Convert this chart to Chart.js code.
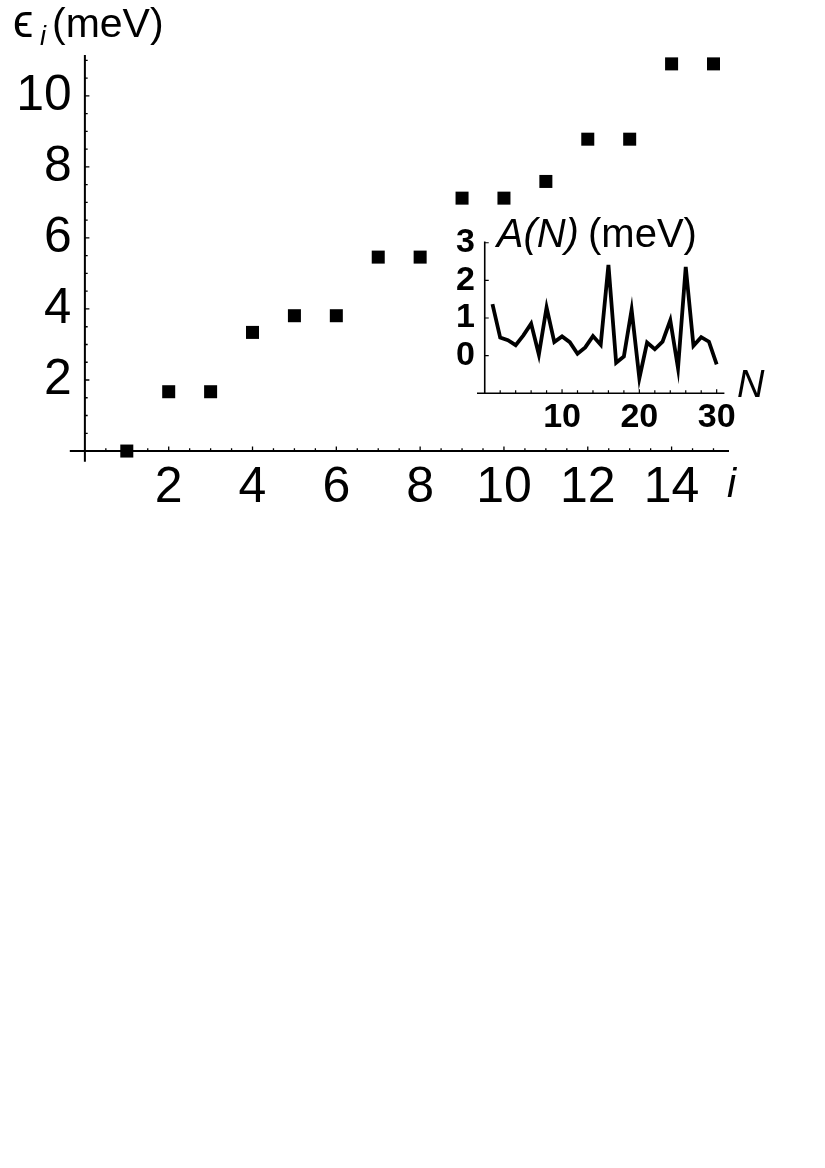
<!DOCTYPE html>
<html>
<head>
<meta charset="utf-8">
<script src="https://cdn.jsdelivr.net/npm/chart.js@4.4.1/dist/chart.umd.min.js"></script>
<style>
  html, body { margin: 0; padding: 0; background: #fff; width: 825px; height: 1168px; overflow: hidden; }
  #mainBox { position: absolute; left: 0; top: 0; width: 825px; height: 530px; }
  #insetBox { position: absolute; left: 430px; top: 200px; width: 360px; height: 245px; }
</style>
</head>
<body>
<div id="mainBox"><canvas id="mainChart"></canvas></div>
<div id="insetBox"><canvas id="insetChart"></canvas></div>
<script>
// ---- data ----
const levelIndex  = [1, 2, 3, 4, 5, 6, 7, 8, 9, 10, 11, 12, 13, 14, 15];
const levelEnergy = [0, 1.67, 1.67, 3.34, 3.81, 3.81, 5.46, 5.46, 7.12, 7.12, 7.59, 8.78, 8.78, 10.90, 10.90];
const mainXTicks  = [2, 4, 6, 8, 10, 12, 14];
const mainYTicks  = [2, 4, 6, 8, 10];

const insetN = [1, 2, 3, 4, 5, 6, 7, 8, 9, 10, 11, 12, 13, 14, 15,
                16, 17, 18, 19, 20, 21, 22, 23, 24, 25, 26, 27, 28, 29, 30];
const insetA = [1.37, 0.48, 0.41, 0.28, 0.54, 0.85, 0.03, 1.28, 0.36, 0.51,
                0.36, 0.05, 0.22, 0.52, 0.29, 2.41, -0.19, -0.02, 1.22, -0.60,
                0.35, 0.17, 0.37, 0.94, -0.33, 2.36, 0.26, 0.49, 0.37, -0.23];
const insetXTicks = [10, 20, 30];
const insetYTicks = [0, 1, 2, 3];

// ---- helpers ----
const FAMILY = '"Liberation Sans", Arial, Helvetica, sans-serif';

function range(from, to, step) {
  const out = [];
  for (let v = from; v <= to + 1e-9; v += step) out.push(Math.round(v * 1000) / 1000);
  return out;
}

function crossAxesPlugin(cfg) {
  return {
    id: 'crossAxes',
    beforeDatasetsDraw(chart) {
      const ctx = chart.ctx, xs = chart.scales.x, ys = chart.scales.y;
      const vx = xs.getPixelForValue(cfg.yAxisAt);
      const hy = ys.getPixelForValue(cfg.xAxisAt);
      ctx.save();
      ctx.strokeStyle = '#000';
      ctx.lineCap = 'butt';
      ctx.lineWidth = cfg.lineWidth;
      ctx.beginPath();
      ctx.moveTo(xs.left, hy); ctx.lineTo(xs.right, hy);
      ctx.moveTo(vx, ys.getPixelForValue(cfg.yLineFrom)); ctx.lineTo(vx, ys.top);
      ctx.stroke();
      ctx.lineWidth = cfg.tickWidth;
      ctx.beginPath();
      cfg.xMinor.forEach(v => { const p = xs.getPixelForValue(v); ctx.moveTo(p, hy); ctx.lineTo(p, hy - cfg.minorLen); });
      cfg.xMajor.forEach(v => { const p = xs.getPixelForValue(v); ctx.moveTo(p, hy); ctx.lineTo(p, hy - cfg.majorLen); });
      cfg.yMinor.forEach(v => { const p = ys.getPixelForValue(v); ctx.moveTo(vx, p); ctx.lineTo(vx + cfg.minorLen, p); });
      cfg.yMajor.forEach(v => { const p = ys.getPixelForValue(v); ctx.moveTo(vx, p); ctx.lineTo(vx + cfg.majorLen, p); });
      ctx.stroke();
      ctx.restore();
    }
  };
}

function textPlugin(runs) {
  return {
    id: 'labels',
    afterDraw(chart) {
      const ctx = chart.ctx;
      ctx.save();
      ctx.fillStyle = '#000';
      ctx.textBaseline = 'alphabetic';
      ctx.textAlign = 'left';
      runs.forEach(r => {
        ctx.font = r.font;
        ctx.fillText(r.text, r.x, r.y);
      });
      ctx.restore();
    }
  };
}

const noGrid = { display: false, drawTicks: false, tickLength: 0 };

// ---- main chart ----
new Chart(document.getElementById('mainChart'), {
  type: 'scatter',
  data: {
    datasets: [{
      data: levelIndex.map((x, k) => ({ x: x, y: levelEnergy[k] })),
      pointStyle: 'rect',
      pointRadius: 9.2,
      pointHoverRadius: 9.2,
      pointBackgroundColor: '#000',
      pointBorderWidth: 0,
      clip: false
    }]
  },
  options: {
    responsive: true,
    maintainAspectRatio: false,
    animation: false,
    events: [],
    layout: { padding: { left: 0, right: 96, top: 55, bottom: 0 } },
    plugins: { legend: { display: false }, tooltip: { enabled: false } },
    scales: {
      x: {
        type: 'linear', min: -0.36, max: 15.37,
        grid: noGrid, border: { display: false },
        afterBuildTicks: s => { s.ticks = mainXTicks.map(v => ({ value: v })); },
        afterFit: s => { s.height = 68.3; },
        ticks: { color: '#000', font: { family: FAMILY, size: 50, lineHeight: 1 }, padding: 2,
                 maxRotation: 0, autoSkip: false, callback: v => String(v) }
      },
      y: {
        type: 'linear', min: -0.3, max: 11.15,
        grid: noGrid, border: { display: false },
        afterBuildTicks: s => { s.ticks = mainYTicks.map(v => ({ value: v })); },
        afterFit: s => { s.width = 69.8; },
        ticks: { color: '#000', font: { family: FAMILY, size: 50, lineHeight: 1 }, padding: -2,
                 autoSkip: false, callback: v => String(v) }
      }
    }
  },
  plugins: [
    crossAxesPlugin({
      xAxisAt: 0, yAxisAt: 0, yLineFrom: -0.3, lineWidth: 2, tickWidth: 1.3,
      majorLen: 4.5, minorLen: 2.8,
      xMajor: mainXTicks, xMinor: range(0.5, 15, 0.5),
      yMajor: mainYTicks, yMinor: range(0.5, 11, 0.5)
    }),
    textPlugin([
      { text: '\u03F5', x: 13, y: 37, font: '46px ' + FAMILY },
      { text: 'i', x: 40, y: 45, font: 'italic 27px ' + FAMILY },
      { text: '(meV)', x: 52, y: 37, font: '41px ' + FAMILY },
      { text: 'i', x: 727, y: 497, font: 'italic 41px ' + FAMILY }
    ])
  ]
});

// ---- inset chart ----
new Chart(document.getElementById('insetChart'), {
  type: 'line',
  data: {
    labels: insetN,
    datasets: [{
      data: insetN.map((n, k) => ({ x: n, y: insetA[k] })),
      borderColor: '#000',
      borderWidth: 3.8,
      tension: 0,
      pointRadius: 0,
      borderJoinStyle: 'miter',
      fill: false,
      clip: false
    }]
  },
  options: {
    responsive: true,
    maintainAspectRatio: false,
    animation: false,
    events: [],
    layout: { padding: { left: 0, right: 65.6, top: 41.6, bottom: 0 } },
    plugins: { legend: { display: false }, tooltip: { enabled: false } },
    scales: {
      x: {
        type: 'linear', min: -1, max: 31,
        grid: noGrid, border: { display: false },
        afterBuildTicks: s => { s.ticks = insetXTicks.map(v => ({ value: v })); },
        afterFit: s => { s.height = 51.7; },
        ticks: { color: '#000', font: { family: FAMILY, size: 34, weight: 'bold', lineHeight: 1 }, padding: 7.4,
                 maxRotation: 0, autoSkip: false, callback: v => String(v) }
      },
      y: {
        type: 'linear', min: -1, max: 3.03,
        grid: noGrid, border: { display: false },
        afterBuildTicks: s => { s.ticks = insetYTicks.map(v => ({ value: v })); },
        afterFit: s => { s.width = 47; },
        ticks: { color: '#000', font: { family: FAMILY, size: 34, weight: 'bold', lineHeight: 1 }, padding: 2,
                 autoSkip: false, callback: v => String(v) }
      }
    }
  },
  plugins: [
    crossAxesPlugin({
      xAxisAt: -1, yAxisAt: 0, yLineFrom: -1, lineWidth: 1.6, tickWidth: 1.2,
      majorLen: 4, minorLen: 3,
      xMajor: insetXTicks, xMinor: range(2, 30, 2).filter(v => v % 10 !== 0),
      yMajor: insetYTicks, yMinor: []
    }),
    textPlugin([
      { text: 'A(N)', x: 66.7, y: 46.7, font: 'italic 40px ' + FAMILY },
      { text: '(meV)', x: 158, y: 46.7, font: '40px ' + FAMILY },
      { text: 'N', x: 307, y: 197, font: 'italic 38px ' + FAMILY }
    ])
  ]
});
</script>
</body>
</html>
